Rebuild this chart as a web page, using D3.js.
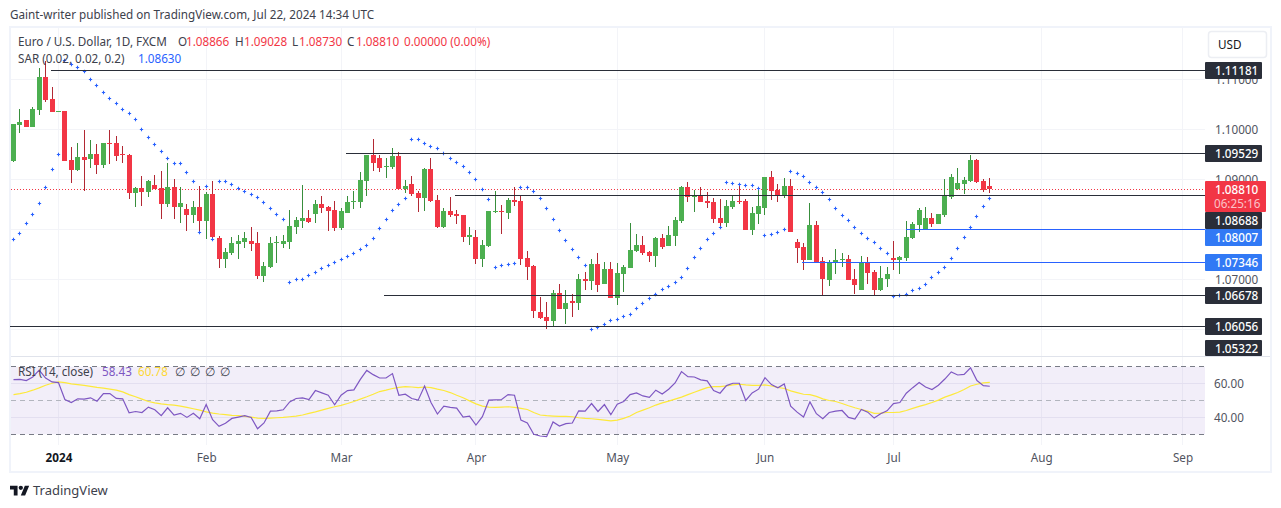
<!DOCTYPE html>
<html>
<head>
<meta charset="utf-8">
<script src="https://cdn.jsdelivr.net/npm/d3@7"></script>
<style>
  html, body { margin: 0; padding: 0; background: #fff; }
  svg { display: block; }
  text { font-family: "Noto Sans", sans-serif; }
</style>
</head>
<body>
<div id="chart"></div>
<script>
// EUR/USD daily candles
const opens = [
  1.0937,1.1009,1.1019,1.1005,1.1039,1.1105,1.1061,1.1035,1.1037,1.0939,
  1.0919,1.0945,1.0941,1.0951,1.0929,1.0973,1.0973,1.0951,1.0949,1.0873,
  1.0883,1.0875,1.0889,1.0883,1.0851,1.0885,1.0845,1.0841,1.0829,1.0845,
  1.0817,1.0871,1.0783,1.0741,1.0753,1.0771,1.0775,1.0777,1.0773,1.0707,
  1.0725,1.0773,1.0771,1.0775,1.0805,1.0817,1.0823,1.0831,1.0851,1.0845,
  1.0839,1.0803,1.0833,1.0855,1.0855,1.0897,1.0949,1.0943,1.0925,1.0925,
  1.0947,1.0881,1.0891,1.0873,1.0863,1.0921,1.0859,1.0805,1.0837,1.0831,
  1.0829,1.0785,1.0785,1.0741,1.0767,1.0835,1.0837,1.0833,1.0859,1.0857,
  1.0743,1.0727,1.0635,1.0625,1.0617,1.0673,1.0641,1.0657,1.0653,1.0701,
  1.0697,1.0731,1.0691,1.0721,1.0663,1.0711,1.0723,1.0757,1.0769,1.0755,
  1.0747,1.0783,1.0767,1.0787,1.0817,1.0885,1.0865,1.0867,1.0857,1.0855,
  1.0823,1.0813,1.0845,1.0857,1.0857,1.0799,1.0831,1.0843,1.0905,1.0879,
  1.0867,1.0887,1.0775,1.0765,1.0739,1.0809,1.0737,1.0699,1.0733,1.0739,
  1.0741,1.0701,1.0679,1.0733,1.0715,1.0679,1.0701,1.0743,1.0739,1.0743,
  1.0783,1.0809,1.0799,1.0823,1.0811,1.0829,1.0865,1.0881,1.0891,1.0897,
  1.0939,1.0897,1.08866];
const highs = [
  1.1011,1.1041,1.1019,1.1045,1.1123,1.1137,1.1085,1.1037,1.1037,1.0965,
  1.0973,1.0999,1.0979,1.0971,1.0973,1.0999,1.0987,1.0967,1.0951,1.0885,
  1.0907,1.0899,1.0909,1.0917,1.0933,1.0901,1.0885,1.0851,1.0857,1.0887,
  1.0875,1.0897,1.0787,1.0763,1.0785,1.0789,1.0795,1.0805,1.0795,1.0735,
  1.0785,1.0787,1.0789,1.0839,1.0825,1.0889,1.0839,1.0859,1.0867,1.0847,
  1.0857,1.0843,1.0867,1.0877,1.0915,1.0949,1.0981,1.0949,1.0943,1.0963,
  1.0955,1.0899,1.0907,1.0877,1.0923,1.0943,1.0869,1.0843,1.0865,1.0839,
  1.0829,1.0805,1.0799,1.0779,1.0837,1.0877,1.0849,1.0863,1.0885,1.0869,
  1.0757,1.0729,1.0665,1.0655,1.0679,1.0691,1.0679,1.0671,1.0711,1.0715,
  1.0741,1.0753,1.0735,1.0735,1.0733,1.0729,1.0813,1.0791,1.0787,1.0757,
  1.0785,1.0791,1.0807,1.0825,1.0887,1.0895,1.0879,1.0885,1.0875,1.0863,
  1.0861,1.0859,1.0867,1.0891,1.0861,1.0845,1.0883,1.0905,1.0917,1.0891,
  1.0903,1.0901,1.0781,1.0773,1.0853,1.0817,1.0745,1.0739,1.0761,1.0753,
  1.0749,1.0721,1.0747,1.0745,1.0719,1.0727,1.0725,1.0777,1.0747,1.0817,
  1.0815,1.0843,1.0845,1.0833,1.0831,1.0901,1.0911,1.0923,1.0905,1.0949,
  1.0941,1.0901,1.09028];
const lows = [
  1.0935,1.0993,1.1005,1.1005,1.1029,1.1055,1.1035,1.1035,1.0937,1.0893,
  1.0917,1.0877,1.0923,1.0911,1.0923,1.0931,1.0937,1.0933,1.0861,1.0845,
  1.0847,1.0865,1.0881,1.0821,1.0845,1.0821,1.0813,1.0797,1.0813,1.0793,
  1.0781,1.0779,1.0723,1.0723,1.0749,1.0741,1.0763,1.0757,1.0701,1.0695,
  1.0723,1.0733,1.0763,1.0761,1.0791,1.0803,1.0813,1.0813,1.0833,1.0797,
  1.0797,1.0799,1.0833,1.0841,1.0843,1.0867,1.0917,1.0915,1.0903,1.0921,
  1.0881,1.0873,1.0867,1.0835,1.0837,1.0855,1.0803,1.0803,1.0825,1.0811,
  1.0775,1.0769,1.0731,1.0725,1.0765,1.0833,1.0791,1.0821,1.0847,1.0729,
  1.0699,1.0623,1.0621,1.0601,1.0607,1.0641,1.0611,1.0625,1.0639,1.0679,
  1.0679,1.0675,1.0691,1.0663,1.0649,1.0675,1.0723,1.0755,1.0749,1.0735,
  1.0725,1.0761,1.0767,1.0767,1.0813,1.0855,1.0835,1.0855,1.0843,1.0813,
  1.0803,1.0805,1.0841,1.0851,1.0799,1.0789,1.0811,1.0829,1.0859,1.0855,
  1.0863,1.0795,1.0733,1.0719,1.0739,1.0735,1.0669,1.0687,1.0711,1.0725,
  1.0699,1.0671,1.0679,1.0691,1.0667,1.0677,1.0685,1.0719,1.0711,1.0737,
  1.0781,1.0795,1.0799,1.0805,1.0811,1.0825,1.0861,1.0879,1.0871,1.0895,
  1.0893,1.0875,1.0873];
const closes = [
  1.1011,1.1015,1.1005,1.1041,1.1105,1.1059,1.1035,1.1037,1.0937,1.0919,
  1.0945,1.0939,1.0951,1.0929,1.0973,1.0971,1.0947,1.0949,1.0873,1.0883,
  1.0875,1.0897,1.0881,1.0851,1.0885,1.0845,1.0853,1.0829,1.0845,1.0817,
  1.0871,1.0785,1.0741,1.0755,1.0773,1.0777,1.0783,1.0771,1.0707,1.0727,
  1.0773,1.0775,1.0777,1.0807,1.0819,1.0823,1.0815,1.0851,1.0843,1.0837,
  1.0803,1.0837,1.0855,1.0857,1.0899,1.0949,1.0933,1.0923,1.0927,1.0947,
  1.0881,1.0887,1.0871,1.0863,1.0921,1.0857,1.0805,1.0837,1.0829,1.0827,
  1.0785,1.0789,1.0741,1.0769,1.0837,1.0837,1.0835,1.0859,1.0855,1.0741,
  1.0725,1.0637,1.0623,1.0617,1.0673,1.0641,1.0653,1.0653,1.0701,1.0697,
  1.0731,1.0689,1.0721,1.0663,1.0713,1.0725,1.0759,1.0769,1.0753,1.0747,
  1.0783,1.0765,1.0789,1.0819,1.0885,1.0865,1.0867,1.0855,1.0853,1.0821,
  1.0813,1.0847,1.0857,1.0855,1.0799,1.0833,1.0847,1.0905,1.0877,1.0867,
  1.0887,1.0795,1.0763,1.0739,1.0809,1.0735,1.0701,1.0735,1.0739,1.0741,
  1.0699,1.0689,1.0733,1.0713,1.0679,1.0703,1.0711,1.0739,1.0745,1.0785,
  1.0811,1.0839,1.0823,1.0811,1.0831,1.0869,1.0905,1.0893,1.0899,1.0939,
  1.0895,1.0879,1.0881];

// parabolic SAR, one dot per candle
const sar = [
  1.0779,1.0793,1.0813,1.0831,1.0853,1.0885,1.0921,1.0951,1.1139,1.1131,
  1.1125,1.1117,1.1101,1.1089,1.1075,1.1063,1.1053,1.1041,1.1033,1.1019,
  1.1001,1.0985,1.0971,1.0957,1.0943,1.0933,1.0933,1.0915,1.0897,1.0795,
  1.0887,1.0781,1.0897,1.0897,1.0891,1.0883,1.0877,1.0871,1.0865,1.0855,
  1.0843,1.0831,1.0821,1.0695,1.0699,1.0701,1.0709,1.0715,1.0723,1.0729,
  1.0735,1.0741,1.0747,1.0753,1.0759,1.0769,1.0783,1.0803,1.0821,1.0837,
  1.0851,1.0863,1.0981,1.0979,1.0973,1.0967,1.0963,1.0953,1.0943,1.0935,
  1.0927,1.0915,1.0901,1.0881,1.0859,1.0725,1.0729,1.0731,1.0733,1.0885,
  1.0885,1.0877,1.0863,1.0843,1.0819,1.0797,1.0777,1.0761,1.0745,1.0729,
  1.0601,1.0605,1.0611,1.0617,1.0621,1.0627,1.0631,1.0643,1.0653,1.0663,
  1.0671,1.0679,1.0687,1.0695,1.0705,1.0723,1.0745,1.0763,1.0779,1.0793,
  1.0805,1.0895,1.0893,1.0891,1.0889,1.0889,1.0883,1.0789,1.0791,1.0795,
  1.0801,1.0917,1.0913,1.0907,1.0895,1.0885,1.0875,1.0859,1.0843,1.0829,
  1.0817,1.0805,1.0793,1.0783,1.0775,1.0763,1.0753,1.0667,1.0669,1.0671,
  1.0677,1.0683,1.0691,1.0705,1.0715,1.0725,1.0743,1.0763,1.0785,1.0805,
  1.0827,1.0847,1.0863];

const rsi = [
  62.4,62.5,61.8,63.9,68.0,63.3,61.0,60.6,50.6,48.8,
  51.0,50.8,51.6,49.6,54.1,54.1,51.2,51.0,42.7,43.5,
  42.9,46.1,44.5,41.0,45.7,41.4,42.4,40.0,42.4,39.2,
  47.6,38.6,34.7,36.5,39.4,40.2,41.0,40.0,33.3,36.7,
  43.7,43.9,44.5,49.2,51.2,51.6,50.6,55.9,54.5,53.1,
  47.5,53.1,55.9,56.3,62.5,67.8,65.3,63.3,63.3,65.9,
  53.1,53.7,51.2,50.2,58.6,48.8,42.0,46.7,45.9,45.5,
  40.2,40.8,35.5,40.4,50.2,50.4,50.6,53.5,53.1,38.4,
  36.7,30.0,29.0,28.6,37.3,34.9,36.3,36.7,43.9,43.7,
  48.2,43.5,47.6,41.6,47.8,49.4,53.5,54.5,52.7,51.8,
  56.1,53.9,56.7,60.4,67.1,64.1,63.9,62.2,61.6,55.9,
  54.3,58.8,60.2,60.2,50.0,54.5,56.7,63.5,59.4,57.5,
  59.8,46.7,43.1,40.2,49.2,42.2,39.2,42.9,43.7,44.1,
  40.0,39.0,44.7,43.1,39.6,42.2,43.9,48.2,48.8,54.3,
  57.6,60.6,58.0,56.5,59.0,62.7,66.9,65.1,65.5,69.4,
  61.8,58.8,58.43];
const rsiMa = [
  53.5,54.1,54.9,56.1,57.5,59.0,60.2,61.0,60.6,59.8,
  59.4,59.0,58.4,57.8,57.3,56.7,56.1,55.1,53.5,52.2,
  50.8,49.4,48.6,48.0,47.6,47.3,46.7,45.9,45.1,44.3,
  43.3,42.5,42.0,41.6,41.2,41.0,40.6,40.2,39.6,39.4,
  39.6,39.8,40.0,40.4,40.8,41.4,42.4,43.3,44.3,45.3,
  46.3,47.1,48.2,49.4,50.8,52.2,53.7,55.3,56.1,57.1,
  57.8,58.2,58.0,57.6,58.0,57.6,56.7,55.9,54.7,53.1,
  51.6,49.8,48.0,46.7,46.1,45.9,46.1,46.3,45.9,45.3,
  44.7,42.9,41.4,41.0,40.8,40.6,40.6,40.4,39.8,39.4,
  39.2,38.8,38.4,38.0,38.4,39.4,40.8,42.9,44.3,45.7,
  47.3,48.6,49.6,50.8,52.0,53.5,54.9,56.3,57.6,58.2,
  58.2,58.6,59.2,59.6,59.2,59.0,59.0,59.2,58.6,57.8,
  57.1,55.7,54.7,53.7,53.5,52.4,51.0,50.0,49.4,48.2,
  46.9,45.7,44.7,43.7,42.4,42.5,42.9,42.9,43.1,44.1,
  45.3,46.5,47.6,48.8,50.2,52.0,53.3,54.7,56.5,58.6,
  59.6,60.4,60.78];

// drawn levels: value, candle index where the line starts, colour group
const levelValues = [1.11181, 1.09529, 1.08688, 1.08007, 1.07346, 1.06678, 1.06056];
const levelStarts = [5.85, 51.8, 68.7, 139, 122.8, 57.7, -0.5];
const levelGroups = ['dark', 'dark', 'dark', 'blue', 'blue', 'dark', 'dark'];
const extraLabel = 1.05322;
const lastPrice = 1.0881;
const countdown = '06:25:16';

const priceTicks = [1.11, 1.10, 1.09, 1.07];
const priceGrid = [1.11, 1.10, 1.09, 1.08, 1.07, 1.06];
const rsiTicks = [60, 40];
const monthIdx = [7, 30, 51, 72, 94, 117, 137, 160, 182];
const monthLabels = ['2024', 'Feb', 'Mar', 'Apr', 'May', 'Jun', 'Jul', 'Aug', 'Sep'];

const width = 1281, height = 508;
const left = 11, right = 1205, paneTop = 28, paneBottom = 356, rsiBottom = 445, frameBottom = 471;
const red = '#f23645', green = '#4caf50', blue = '#2962ff', dark = '#2a2e39';
const blueLabel = '#3179f5';
const gridColor = '#f3f4f8';
const textColor = '#131722';
const fontSize = 11.7;

const x = d3.scaleLinear().domain([0, 152]).range([13.5, 989.8]);
const y = d3.scaleLinear().domain([1.06, 1.10]).range([329.5, 129.5]);
const yRsi = d3.scaleLinear().domain([30, 70]).range([434.3, 366.7]);

const svg = d3.select('#chart').append('svg')
  .attr('width', width)
  .attr('height', height);

svg.append('rect').attr('width', width).attr('height', height).attr('fill', '#fff');

// outer frame
svg.append('rect')
  .attr('x', 10).attr('y', 27)
  .attr('width', 1261).attr('height', 445)
  .attr('fill', 'none')
  .attr('stroke', '#f0f3fa')
  .attr('stroke-width', 2);

// header text
svg.append('text')
  .attr('x', 10).attr('y', 19)
  .attr('font-size', fontSize).attr('fill', '#3d414c')
  .text('Gaint-writer published on TradingView.com, Jul 22, 2024 14:34 UTC');

// grid
const grid = svg.append('g').attr('shape-rendering', 'crispEdges');
grid.selectAll('.v').data(monthIdx).enter().append('line')
  .attr('x1', d => Math.floor(x(d)) + 0.5).attr('x2', d => Math.floor(x(d)) + 0.5)
  .attr('y1', paneTop).attr('y2', rsiBottom)
  .attr('stroke', gridColor);
grid.selectAll('.h').data(priceGrid).enter().append('line')
  .attr('x1', left).attr('x2', right)
  .attr('y1', d => Math.floor(y(d)) + 0.5).attr('y2', d => Math.floor(y(d)) + 0.5)
  .attr('stroke', gridColor);

// last price dotted line
svg.append('line')
  .attr('x1', left).attr('x2', right)
  .attr('y1', Math.floor(y(lastPrice)) + 0.5).attr('y2', Math.floor(y(lastPrice)) + 0.5)
  .attr('stroke', red)
  .attr('stroke-dasharray', '1 2');

// candles
const candles = svg.append('g').attr('shape-rendering', 'crispEdges');
const candle = candles.selectAll('g').data(opens).enter().append('g');
candle.append('rect')
  .attr('x', (d, i) => Math.floor(x(i)))
  .attr('width', 1)
  .attr('y', (d, i) => Math.round(y(highs[i])))
  .attr('height', (d, i) => Math.max(1, Math.round(y(lows[i])) - Math.round(y(highs[i]))))
  .attr('fill', (d, i) => closes[i] >= d ? '#388e3c' : '#b22833');
candle.append('rect')
  .attr('x', (d, i) => Math.floor(x(i)) - 2)
  .attr('width', 5)
  .attr('y', (d, i) => Math.round(y(Math.max(d, closes[i]))))
  .attr('height', (d, i) => Math.max(1, Math.round(y(Math.min(d, closes[i]))) - Math.round(y(Math.max(d, closes[i])))))
  .attr('fill', (d, i) => closes[i] >= d ? green : red);

// SAR crosses
svg.append('g').selectAll('path').data(sar).enter().append('path')
  .attr('d', d3.symbol().type(d3.symbolCross).size(6))
  .attr('transform', (d, i) => `translate(${Math.floor(x(i)) + 0.5},${Math.floor(y(d)) + 0.5})`)
  .attr('fill', blue);

// drawn horizontal levels sit above the candles
svg.append('g').attr('shape-rendering', 'crispEdges')
  .selectAll('line').data(levelValues).enter().append('line')
  .attr('x1', (d, i) => x(levelStarts[i])).attr('x2', right)
  .attr('y1', d => Math.floor(y(d)) + 0.5).attr('y2', d => Math.floor(y(d)) + 0.5)
  .attr('stroke', (d, i) => levelGroups[i] === 'blue' ? blue : dark);

// pane separator
svg.append('line')
  .attr('x1', left).attr('x2', 1270)
  .attr('y1', 356.5).attr('y2', 356.5)
  .attr('stroke', '#e0e3eb');

// price axis
const priceAxis = svg.append('g')
  .attr('transform', `translate(${right},0)`)
  .call(d3.axisRight(y).tickValues(priceTicks).tickSize(0).tickPadding(10).tickFormat(d3.format('.5f')));
priceAxis.select('.domain').remove();
priceAxis.selectAll('text').attr('font-size', fontSize).attr('fill', '#50535e').style('font-family', '"Noto Sans", sans-serif');

// price labels, pushed apart so they do not overlap, as the platform does
const labelH = 17;
const lastTop = Math.round(y(lastPrice)) - 8;
const lastH = 31;
const labelRows = levelValues.concat([extraLabel]).map((v, i) => ({ v, group: levelGroups[i] || 'dark' }));
let prevBottom = 0;
labelRows.forEach(r => {
  let top = Math.round(y(r.v) - 8.5);
  if (r.v < lastPrice && prevBottom < lastTop + lastH) prevBottom = lastTop + lastH;
  top = Math.max(top, prevBottom);
  top = Math.min(top, paneBottom - 16);
  r.top = top;
  prevBottom = top + labelH;
});
const labels = svg.append('g');
labels.append('rect')
  .attr('x', right).attr('y', lastTop).attr('width', 61).attr('height', lastH)
  .attr('rx', 1).attr('fill', red);
labels.append('text').attr('x', 1215).attr('y', lastTop + 12.5)
  .attr('font-size', fontSize).attr('font-weight', 500).attr('fill', '#fff').text(d3.format('.5f')(lastPrice));
labels.append('text').attr('x', 1214).attr('y', lastTop + 26.5)
  .attr('font-size', fontSize).attr('fill', '#fbc4c9').text(countdown);
const labelG = labels.selectAll('.lab').data(labelRows).enter().append('g');
labelG.append('rect')
  .attr('x', right).attr('y', d => d.top).attr('width', 57).attr('height', d => Math.min(labelH, paneBottom - d.top))
  .attr('rx', 1)
  .attr('fill', d => d.group === 'blue' ? blueLabel : dark);
labelG.append('text')
  .attr('x', 1215).attr('y', d => d.top + 12.5)
  .attr('font-size', fontSize).attr('font-weight', 500).attr('fill', '#fff')
  .text(d => d3.format('.5f')(d.v));

// currency button
svg.append('rect')
  .attr('x', 1208.5).attr('y', 31.5).attr('width', 58).attr('height', 26).attr('rx', 3)
  .attr('fill', '#fff').attr('stroke', '#eceef3').attr('stroke-width', 1.5);
svg.append('text').attr('x', 1218).attr('y', 49)
  .attr('font-size', fontSize).attr('fill', textColor).text('USD');

// RSI pane
svg.append('rect')
  .attr('x', left).attr('width', right - left)
  .attr('y', yRsi(70)).attr('height', yRsi(30) - yRsi(70))
  .attr('fill', '#7e57c2').attr('fill-opacity', 0.1);
const rsiGuides = svg.append('g').attr('shape-rendering', 'crispEdges');
rsiGuides.selectAll('.g').data(rsiTicks).enter().append('line')
  .attr('x1', left).attr('x2', right)
  .attr('y1', d => Math.floor(yRsi(d)) + 0.5).attr('y2', d => Math.floor(yRsi(d)) + 0.5)
  .attr('stroke', '#e3dff0');
rsiGuides.selectAll('.d').data([70, 50, 30]).enter().append('line')
  .attr('x1', left).attr('x2', right)
  .attr('y1', d => Math.floor(yRsi(d)) + 0.5).attr('y2', d => Math.floor(yRsi(d)) + 0.5)
  .attr('stroke', d => d === 50 ? '#b2b5be' : '#787b86')
  .attr('stroke-dasharray', '5 4');

const rsiLine = d3.line().x((d, i) => x(i)).y(d => yRsi(d));
svg.append('path').datum(rsiMa)
  .attr('d', rsiLine).attr('fill', 'none').attr('stroke', '#fde93b').attr('stroke-width', 1.2);
svg.append('path').datum(rsi)
  .attr('d', rsiLine).attr('fill', 'none').attr('stroke', '#7e57c2').attr('stroke-width', 1.2);

const rsiAxis = svg.append('g')
  .attr('transform', `translate(${right},0)`)
  .call(d3.axisRight(yRsi).tickValues(rsiTicks).tickSize(0).tickPadding(9).tickFormat(d3.format('.2f')));
rsiAxis.select('.domain').remove();
rsiAxis.selectAll('text').attr('font-size', fontSize).attr('fill', '#50535e').style('font-family', '"Noto Sans", sans-serif');

// time axis
const timeAxis = svg.append('g')
  .attr('transform', `translate(0,${rsiBottom})`)
  .call(d3.axisBottom(x).tickValues(monthIdx).tickSize(0).tickPadding(9).tickFormat((d, i) => monthLabels[i]));
timeAxis.select('.domain').remove();
timeAxis.selectAll('text')
  .attr('font-size', fontSize)
  .attr('fill', (d, i) => i === 0 ? textColor : '#50535e')
  .attr('font-weight', (d, i) => i === 0 ? 700 : 400)
  .style('font-family', '"Noto Sans", sans-serif');

// legend rows
function legendRow(yPos, parts) {
  const t = svg.append('text').attr('y', yPos).attr('font-size', fontSize);
  parts.forEach(p => t.append('tspan').attr('x', p[0]).attr('fill', p[2]).text(p[1]));
}
const legendText = '#3d414c';
legendRow(46, [
  [18, 'Euro / U.S. Dollar, 1D, FXCM', legendText],
  [178, 'O', legendText], [186, '1.08866', red],
  [235, 'H', legendText], [244, '1.09028', red],
  [292, 'L', legendText], [299, '1.08730', red],
  [347, 'C', legendText], [356, '1.08810', red],
  [404, '0.00000 (0.00%)', red]
]);
legendRow(63, [
  [18, 'SAR (0.02, 0.02, 0.2)', legendText],
  [138, '1.08630', blue]
]);
legendRow(376, [
  [18, 'RSI (14, close)', legendText],
  [102, '58.43', '#7e57c2'],
  [138, '60.78', '#fdd835'],
  [175, '∅', legendText], [190, '∅', legendText], [205, '∅', legendText], [220, '∅', legendText]
]);

// footer logo
svg.append('g')
  .attr('transform', 'translate(10,483.5) scale(0.54)')
  .attr('fill', '#131722')
  .call(g => {
    g.append('path').attr('d', 'M14 22H7V11H0V4h14v18zM28 22h-8l7.5-18h8L28 22z');
    g.append('circle').attr('cx', 20).attr('cy', 8).attr('r', 4);
  });
svg.append('text').attr('x', 33).attr('y', 495)
  .attr('font-size', 13).attr('fill', '#3d414c').text('TradingView');
</script>
</body>
</html>
